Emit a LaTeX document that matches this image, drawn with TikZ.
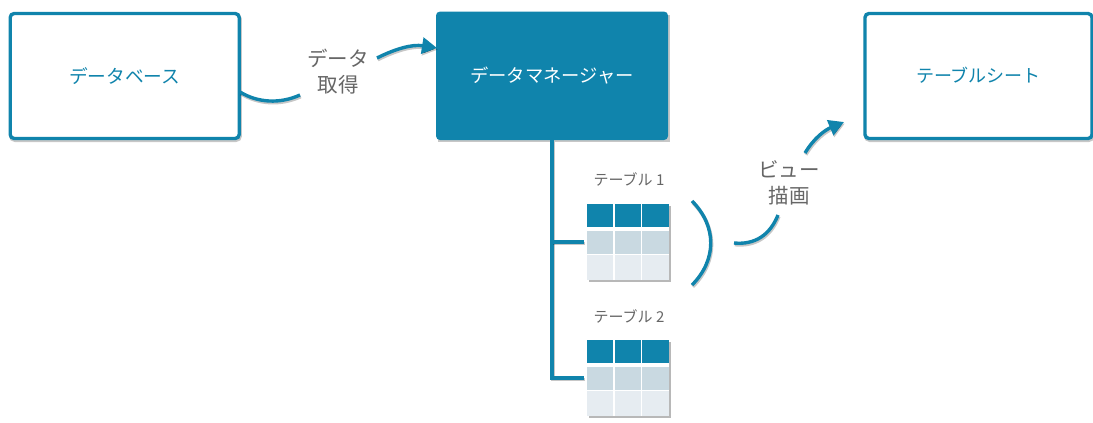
\documentclass[tikz,border=0pt]{standalone}
\usepackage{fontspec}
\setmainfont{Noto Sans CJK JP}
\usetikzlibrary{arrows.meta}
\definecolor{teal0}{HTML}{1084AC}
\definecolor{rowmid}{HTML}{C9D9E1}
\definecolor{rowlow}{HTML}{E6ECF1}
\definecolor{txtgray}{HTML}{666666}
\newcommand{\fs}[1]{\fontsize{#1}{25}\selectfont}
\newcommand{\up}[1]{\raisebox{1.5pt}{#1}}
\tikzset{
  x=1pt,y=-1pt,
  lift/.style={preaction={draw=black,draw opacity=.22,line width=#1,transform canvas={shift={(.8pt,-1.6pt)}}}},
  boxwhite/.style={draw=teal0,line width=3.4pt,rounded corners=4pt,fill=white,text=teal0,inner sep=0pt,lift=3.8pt},
  boxsolid/.style={fill=teal0,rounded corners=4pt,text=white,inner sep=0pt},
  wire/.style={draw=teal0,line width=3.4pt,lift=3.6pt},
  arrowend/.style={-{Triangle[length=15pt,width=16pt]}},
  steplabel/.style={text=txtgray,font=\fs{20.5},align=center,inner sep=0pt},
  tablelabel/.style={text=txtgray,font=\fs{15},inner sep=0pt},
  tablebody/.style={fill=black,fill opacity=.28,minimum width=82pt,minimum height=76pt,inner sep=0pt},
  headcell/.style={fill=teal0,minimum height=23pt,minimum width=26.5pt,inner sep=0pt},
  midcell/.style={fill=rowmid,minimum height=23pt,minimum width=26.5pt,inner sep=0pt},
  lowcell/.style={fill=rowlow,minimum height=25pt,minimum width=26.5pt,inner sep=0pt},
}
\begin{document}
\begin{tikzpicture}
\useasboundingbox (0,0) rectangle (1093,423);
% boxes
\node[boxwhite,font=\fs{18.7},minimum width=229pt,minimum height=125pt] (db) at (124.7,76) {\up{データベース}};
\fill[black,opacity=.22] (437.5,15) rectangle (669.5,141.5);
\node[boxsolid,font=\fs{18.3},minimum width=232pt,minimum height=128.5pt] (mgr) at (552,75.8) {\up{データマネージャー}};
\node[boxwhite,font=\fs{18},minimum width=227pt,minimum height=125pt] (sheet) at (978.5,76) {\up{テーブルシート}};
% labels
\node[steplabel] (getlab) at (338,72) {データ\\[1pt]取得};
\node[steplabel] (viewlab) at (789,183) {ビュー\\[1pt]描画};
\node[tablelabel] (t1lab) at (629,179) {テーブル 1};
\node[tablelabel] (t2lab) at (629,316) {テーブル 2};
% tables
\foreach \nm/\oy in {a/0,b/136}{
  \node[tablebody] (tb\nm) at (629.5,243.5+\oy) {};
  \fill[white] (587,204+\oy) rectangle (669,280+\oy);
  \foreach \cx/\cn in {600/1,628/2,655.5/3}{
    \node[headcell] (h\nm\cn) at (\cx,215.5+\oy) {};
    \node[midcell] (m\nm\cn) at (\cx,242.5+\oy) {};
    \node[lowcell] (l\nm\cn) at (\cx,267.5+\oy) {};
  }
}
% connectors
\coordinate (dbout) at (240,92);
\coordinate (getin) at (300,95);
\coordinate (getout) at (377,58);
\coordinate (mgrin) at (437,48);
\coordinate (trunk) at (552,140);
\coordinate (forka) at (552,242);
\coordinate (forkb) at (552,378);
\coordinate (taba) at (584,242);
\coordinate (tabb) at (584,378);
\coordinate (bra) at (692,201);
\coordinate (brb) at (692,285);
\coordinate (viewin) at (734,243);
\coordinate (viewmid) at (778,215);
\coordinate (viewout) at (805,153);
\coordinate (sheetin) at (844,122);
\path[wire] (dbout) .. controls (258,103) and (280,104) .. (getin);
\path[wire,arrowend] (getout) .. controls (395,49) and (412,44) .. (mgrin);
\path[wire] (trunk) -- (forkb) -- (tabb);
\path[wire] (forka) -- (taba);
\path[wire] (bra) .. controls (717,226) and (717,260) .. (brb);
\path[wire] (viewin) .. controls (755,245) and (770,235) .. (viewmid);
\path[wire,arrowend] (viewout) .. controls (814,138) and (825,130) .. (sheetin);
\end{tikzpicture}
\end{document}
